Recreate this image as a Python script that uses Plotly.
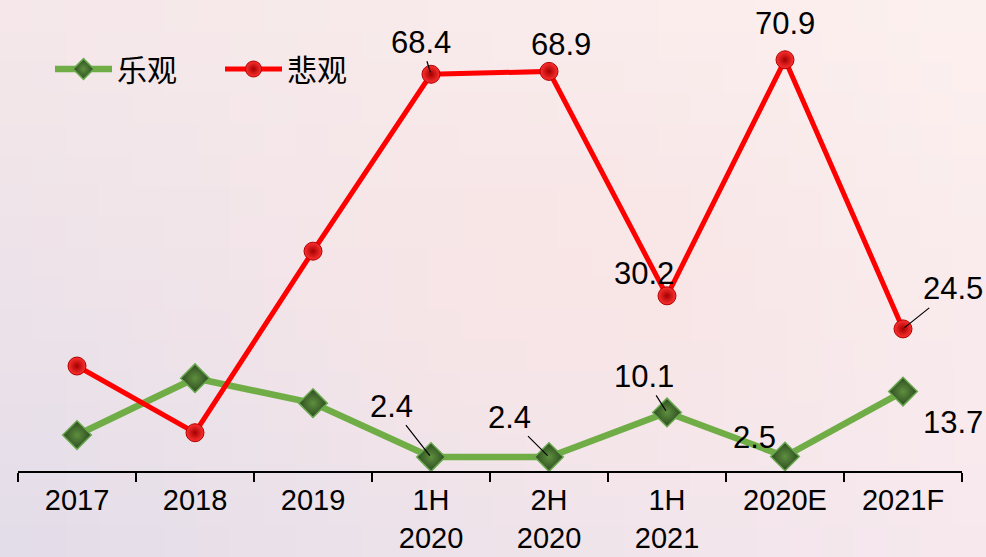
import numpy as np
import plotly.graph_objects as go

# ---- data ----
categories = ["2017", "2018", "2019", "1H<br>2020", "2H<br>2020", "1H<br>2021", "2020E", "2021F"]
optimistic = [6.2, 16.0, 11.7, 2.4, 2.4, 10.1, 2.5, 13.7]
pessimistic = [18.1, 6.6, 37.9, 68.4, 68.9, 30.2, 70.9, 24.5]

W, H = 986, 557
ML, MR, MT, MB = 18, 24, 0, 86
PW, PH = W - ML - MR, H - MT - MB

fig = go.Figure()

fig.add_trace(go.Scatter(
    x=categories, y=optimistic, name="乐观", mode="lines+markers",
    line=dict(color="#70ad47", width=6.5),
    marker=dict(symbol="diamond", size=22, color="#2c4a20",
                gradient=dict(type="radial", color="#5e8f3e"),
                line=dict(color="#6aa84f", width=1.5)),
    cliponaxis=False,
))
fig.add_trace(go.Scatter(
    x=categories, y=pessimistic, name="悲观", mode="lines+markers",
    line=dict(color="#ff0000", width=5),
    marker=dict(symbol="circle", size=18, color="#ff3030",
                gradient=dict(type="radial", color="#a30000"),
                line=dict(color="#b00000", width=1)),
    cliponaxis=False,
))

# ---- background gradient (lavender bottom-left to light pink top-right) ----
def hex2rgb(h):
    h = h.lstrip("#")
    return np.array([int(h[i:i + 2], 16) for i in (0, 2, 4)], dtype=float)

c_tl, c_tr = hex2rgb("#f6e8ea"), hex2rgb("#fdf1ef")
c_bl, c_br = hex2rgb("#e3dde9"), hex2rgb("#f7e9ee")
c_mid = hex2rgb("#fce4e3")

nx, ny = 30, 18
shapes = []
for i in range(nx):
    for j in range(ny):
        u = (i + 0.5) / nx
        v = (j + 0.5) / ny  # 0 top, 1 bottom
        c = (c_tl * (1 - u) * (1 - v) + c_tr * u * (1 - v)
             + c_bl * (1 - u) * v + c_br * u * v)
        wgt = np.exp(-(((u - 0.58) / 0.30) ** 2 + ((v - 0.5) / 0.35) ** 2))
        c = c * (1 - 0.6 * wgt) + c_mid * 0.6 * wgt
        x0p, x1p = i * W / nx, (i + 1) * W / nx
        y0p, y1p = j * H / ny, (j + 1) * H / ny
        shapes.append(dict(
            type="rect", xref="paper", yref="paper", layer="below",
            x0=(x0p - ML) / PW, x1=(x1p + 1 - ML) / PW,
            y0=1 - (y1p + 1 - MT) / PH, y1=1 - (y0p - MT) / PH,
            line=dict(width=0),
            fillcolor="rgb(%d,%d,%d)" % tuple(np.clip(c, 0, 255).astype(int)),
        ))

# ---- value labels ----
lab_font = dict(family="Liberation Sans, Arial", size=31, color="#000000")
labels = [
    # (category index, value, dx, dy, arrow)
    (3, pessimistic[3], -10, -32, True),
    (4, pessimistic[4], 12, -27, False),
    (6, pessimistic[6], 0, -36, False),
    (5, pessimistic[5], -23, -22, False),
    (7, pessimistic[7], 50, -40, True),
    (3, optimistic[3], -40, -51, True),
    (4, optimistic[4], -40, -40, True),
    (5, optimistic[5], -23, -36, True),
    (6, optimistic[6], -31, -19, False),
    (7, optimistic[7], 50, 31, False),
]
annotations = []
for idx, val, dx, dy, arrow in labels:
    a = dict(x=categories[idx], y=val, xref="x", yref="y", text=f"{val:.1f}",
             font=lab_font)
    if arrow:
        a.update(showarrow=True, ax=dx, ay=dy, arrowhead=0, arrowwidth=1.2,
                 arrowcolor="#000000", standoff=2)
    else:
        a.update(showarrow=False, xshift=dx, yshift=-dy)
    annotations.append(a)

fig.update_layout(
    width=W, height=H,
    margin=dict(l=ML, r=MR, t=MT, b=MB),
    paper_bgcolor="#f4e6ea",
    plot_bgcolor="rgba(0,0,0,0)",
    shapes=shapes,
    annotations=annotations,
    showlegend=True,
    legend=dict(
        orientation="h", x=(50 - ML) / PW, y=1 - 69 / PH,
        xanchor="left", yanchor="middle",
        bgcolor="rgba(0,0,0,0)",
        font=dict(family="Noto Sans CJK SC", size=30, color="#000000"),
        itemwidth=57,
        entrywidth=98,
    ),
    xaxis=dict(
        type="category", range=[-0.5, 7.5], automargin=False,
        showgrid=False, zeroline=False,
        showline=True, linecolor="#000000", linewidth=2,
        ticks="outside", tickson="boundaries", ticklen=9,
        tickwidth=2, tickcolor="#000000",
        ticklabelstandoff=2,
        tickfont=dict(family="Liberation Sans, Arial", size=29, color="#000000"),
    ),
    yaxis=dict(range=[0, 471 / 5.8], visible=False, fixedrange=True,
               automargin=False),
)

fig.write_html("out.html")
